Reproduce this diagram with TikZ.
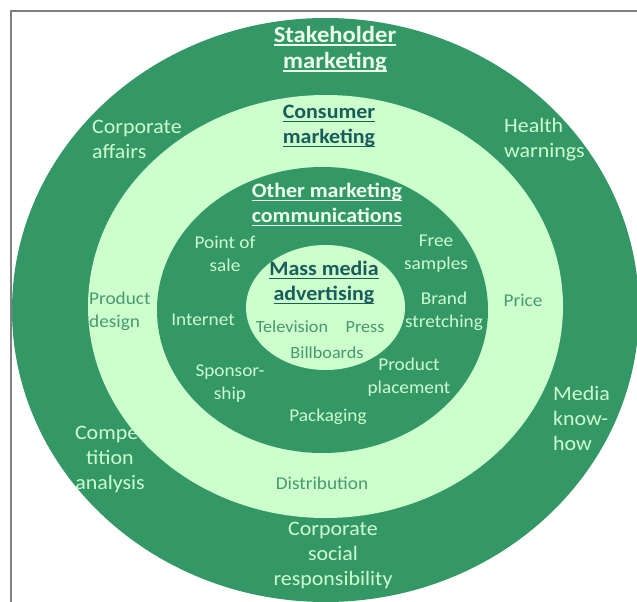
\documentclass[tikz,border=0pt]{standalone}
\usepackage{fontspec}
\setmainfont{Carlito}[FakeStretch=1.07]
\usepackage{xcolor}

\definecolor{ringdark}{RGB}{52,152,102}
\definecolor{ringlight}{RGB}{204,255,204}
\definecolor{txtlight}{RGB}{206,252,206}
\definecolor{txtdark}{RGB}{72,152,112}
\definecolor{headdark}{RGB}{24,92,92}
\definecolor{headlight}{RGB}{236,255,236}
\definecolor{framegray}{RGB}{128,128,128}

\newcommand{\ulhead}[1]{\leavevmode\setbox0=\hbox{#1}\rlap{\copy0}\rule[-4pt]{\wd0}{1.6pt}}

\begin{document}
\begin{tikzpicture}[x=1pt,y=-1pt,
  lbl/.style={inner sep=0pt, align=center},
  stakehead/.style={lbl, headlight, font=\bfseries\fontsize{23}{26}\selectfont},
  head/.style={lbl, font=\bfseries\fontsize{20.5}{25}\selectfont},
  outeritem/.style={lbl, txtlight, font=\fontsize{20.5}{25}\selectfont},
  ringitem/.style={lbl, txtdark, font=\fontsize{18}{23}\selectfont},
  inneritem/.style={lbl, txtlight, font=\fontsize{18}{23}\selectfont},
  massitem/.style={lbl, txtdark, font=\fontsize{17}{23}\selectfont}]

\useasboundingbox (0,0) rectangle (637,602);
\clip (0,0) rectangle (637,602);

% rings, outside in
\fill[ringdark] (325.5,310) ellipse [x radius=313.5pt, y radius=292pt];
\fill[ringlight] (325.5,306.5) ellipse [x radius=237.5pt, y radius=211.5pt];
\fill[ringdark] (322.5,310) ellipse [x radius=165.5pt, y radius=143pt];
\fill[ringlight] (325.5,307.5) ellipse [x radius=79.5pt, y radius=62.5pt];

\draw[framegray, line width=2pt] (11,602) -- (11,11) -- (637,11);

% ring titles
\node[stakehead] (stake) at (335,49) {\ulhead{Stakeholder}\\\ulhead{marketing}};
\node[head, headdark] (consumer) at (329,126) {\ulhead{Consumer}\\\ulhead{marketing}};
\node[head, headlight] (other) at (327,204.5) {\ulhead{Other marketing}\\\ulhead{communications}};
\node[head, headdark] (mass) at (324,282.5) {\ulhead{Mass media}\\\ulhead{advertising}};

% stakeholder ring
\node[outeritem, anchor=west, align=left] (corpaff) at (92,139.5) {Corporate\\affairs};
\node[outeritem, anchor=west, align=left] (health) at (504,139.5) {Health\\warnings};
\node[outeritem, anchor=west, align=left] (media) at (553,418) {Media\\know-\\how};
\node[outeritem] (compet) at (110,459.5) {Compe-\\tition\\analysis};
\node[outeritem] (csr) at (333,555.5) {Corporate\\social\\responsibility};

% consumer ring
\node[ringitem, anchor=west, align=left] (design) at (89,311.5) {Product\\design};
\node[ringitem] (price) at (523,300) {Price};
\node[ringitem] (distrib) at (322,483) {Distribution};

% other communications ring
\node[inneritem] (pos) at (225,253.5) {Point of\\sale};
\node[inneritem] (samples) at (436,253.5) {Free\\samples};
\node[inneritem] (internet) at (203,320) {Internet};
\node[inneritem] (brand) at (444,311.5) {Brand\\stretching};
\node[inneritem] (sponsor) at (230,383.5) {Sponsor-\\ship};
\node[inneritem] (placement) at (409,377) {Product\\placement};
\node[inneritem] (packaging) at (328,417) {Packaging};

% mass media
\node[massitem] (tv) at (292,327) {Television};
\node[massitem] (press) at (365,327) {Press};
\node[massitem] (billb) at (327,353) {Billboards};
\end{tikzpicture}
\end{document}
